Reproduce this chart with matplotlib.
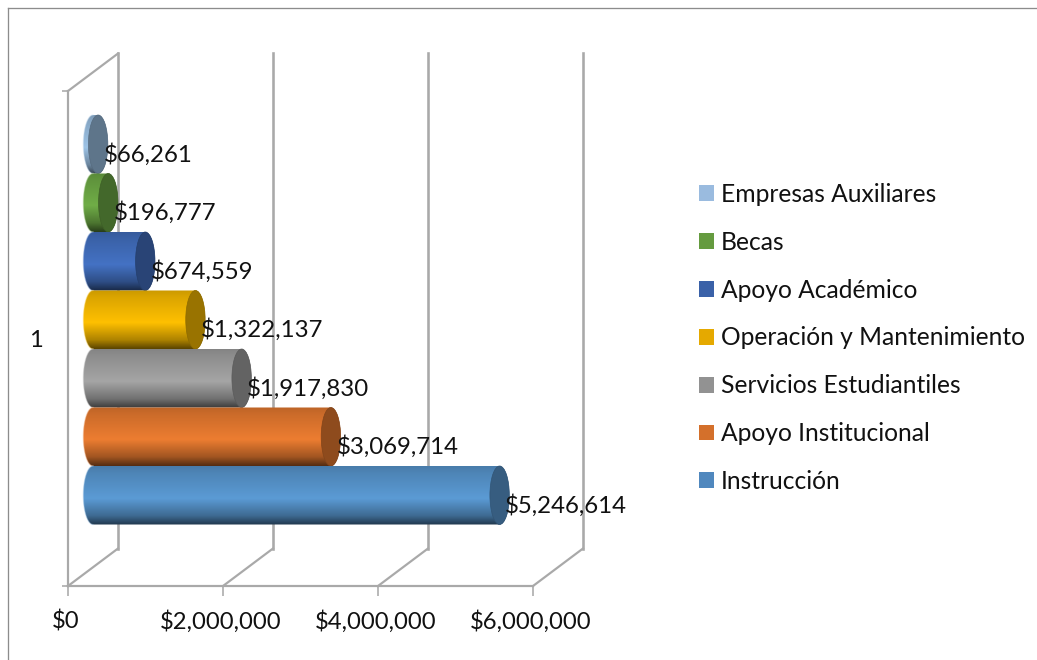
import numpy as np
import matplotlib
matplotlib.use('Agg')
import matplotlib.pyplot as plt
from matplotlib.patches import Patch, PathPatch, Ellipse
from matplotlib.path import Path
from matplotlib.colors import to_rgb
from matplotlib.transforms import ScaledTranslation

plt.rcParams['font.family'] = ['Lato', 'DejaVu Sans']

W, H = 1037, 660

# data, bottom bar first
series = ['Instrucción', 'Apoyo Institucional', 'Servicios Estudiantiles',
          'Operación y Mantenimiento', 'Apoyo Académico', 'Becas', 'Empresas Auxiliares']
values = [5246614, 3069714, 1917830, 1322137, 674559, 196777, 66261]
bar_colors = ['#5b9bd5', '#ed7d31', '#a5a5a5', '#ffc000', '#4472c4', '#70ad47', '#9dc3e6']
legend_colors = ['#5088be', '#d4702b', '#929292', '#e5a900', '#3a61a8', '#659b3f', '#9abbdf']
xticks = [0, 2000000, 4000000, 6000000]
xticklabels = ['$0', '$2,000,000', '$4,000,000', '$6,000,000']
category = '1'

GREY = '#a9a9a9'
px = 0.72  # points per pixel at dpi 100

fig = plt.figure(figsize=(W / 100, H / 100), dpi=100)
# front plane of the 3d box, in pixels
left, right, top, bottom = 68, 533, 91, 586
ax = fig.add_axes([left / W, 1 - bottom / H, (right - left) / W, (bottom - top) / H])

xmax = 6000000
xlim = (0, xmax)
bar_px = 58.5
n = len(values)
margin = ((bottom - top) / bar_px - n) / 2
ylim = (-0.5 - margin, n - 0.5 + margin)

per_px_x = xmax / (right - left)
per_px_y = 1 / bar_px
depth_x = 50 * per_px_x
depth_y = 37.5 * per_px_y
cap_w = 9.7 * per_px_x

# back wall and floor
for t in xticks:
    ax.plot([t + depth_x] * 2, [ylim[0] + depth_y, ylim[1] + depth_y], color=GREY, lw=2.6 * px,
            clip_on=False, zorder=1)
    ax.plot([t, t + depth_x], [ylim[0], ylim[0] + depth_y], color=GREY, lw=2.2 * px, clip_on=False, zorder=1)
ax.plot([0, depth_x], [ylim[1], ylim[1] + depth_y], color=GREY, lw=2.2 * px, clip_on=False, zorder=1)


def cylinder(y, end, color, z):
    x0 = depth_x / 2
    x1 = end + depth_x / 2
    yc = y + depth_y / 2
    th = np.linspace(np.pi / 2, 3 * np.pi / 2, 40)
    # outline: left half ellipse then right half ellipse
    lx = x0 + cap_w * np.cos(th)
    ly = yc + 0.5 * np.sin(th)
    rx = x1 - cap_w * np.cos(th)
    ry = yc - 0.5 * np.sin(th)
    verts = np.vstack([np.column_stack([lx, ly]), np.column_stack([rx, ry]), [[lx[0], ly[0]]]])
    outline = PathPatch(Path(verts), facecolor='none', edgecolor='none', transform=ax.transData, zorder=z)
    ax.add_patch(outline)
    base = np.array(to_rgb(color))
    rows = np.linspace(0, 1, 80)
    shade = np.interp(rows, [0, 0.12, 0.55, 0.85, 1], [0.8, 0.86, 1.0, 0.68, 0.36])
    img = (base[None, :] * shade[:, None])[:, None, :]
    im = ax.imshow(img, extent=[x0 - cap_w, x1 + cap_w, yc - 0.5, yc + 0.5], origin='upper',
                   aspect='auto', zorder=z, interpolation='bilinear')
    im.set_clip_path(outline)
    # light rim on the rounded left end
    tint = base + (1 - base) * 0.45
    ax.plot(lx, ly, color=tint, lw=1.2 * px, alpha=0.45, zorder=z + 0.05, clip_on=False)
    ax.add_patch(Ellipse((x1, yc), 2 * cap_w, 1.0, facecolor=base * 0.6, edgecolor=base * 0.55,
                         lw=0.5, zorder=z + 0.1))
    ax.annotate('$' + format(end, ','), xy=(x1 + cap_w, yc), xytext=(-4 * px, -10.2 * px),
                textcoords='offset points', ha='left', va='center', fontsize=17.3, color='#111111',
                zorder=50, annotation_clip=False)


for i in range(n - 1, -1, -1):
    cylinder(i, values[i], bar_colors[i], 10 + (n - i))

ax.set_xlim(xlim)
ax.set_ylim(ylim)
ax.set_facecolor('none')
ax.spines['top'].set_visible(False)
ax.spines['right'].set_visible(False)
for s in ['left', 'bottom']:
    ax.spines[s].set_color(GREY)
    ax.spines[s].set_linewidth(2.2 * px)
    ax.spines[s].set_zorder(2)
ax.set_xticks(xticks)
ax.set_xticklabels(xticklabels, fontsize=17.2, color='#111111')
ax.tick_params(axis='x', length=10 * px, width=1.6 * px, color=GREY, pad=10.5)
shift = ScaledTranslation(-2.5 / 100, 0, fig.dpi_scale_trans)
for lab in ax.get_xticklabels():
    lab.set_transform(lab.get_transform() + shift)
ax.set_yticks(ylim)
ax.set_yticklabels(['', ''])
ax.tick_params(axis='y', length=6 * px, width=1.6 * px, color=GREY)
ax.set_yticks([(n - 1) / 2], [category], minor=True, fontsize=17.2, color='#111111')
ax.tick_params(axis='y', which='minor', length=0, pad=18)

handles = [Patch(facecolor=legend_colors[i], label=series[i]) for i in range(n - 1, -1, -1)]
fig.legend(handles=handles, loc='upper left', bbox_to_anchor=(699 / W, 1 - 183 / H), frameon=False,
           fontsize=17.7, labelcolor='#111111', handlelength=0.61, handleheight=0.61, handletextpad=0.28,
           labelspacing=1.01, borderpad=0, borderaxespad=0)

# chart frame, only top and left sides are inside the picture
fig.add_artist(plt.Line2D([8 / W, 1], [1 - 8 / H, 1 - 8 / H], color='#8c8c8c', lw=1.3 * px))
fig.add_artist(plt.Line2D([8 / W, 8 / W], [1 - 8 / H, 0], color='#8c8c8c', lw=1.3 * px))

fig.savefig('out.png', dpi=100)
